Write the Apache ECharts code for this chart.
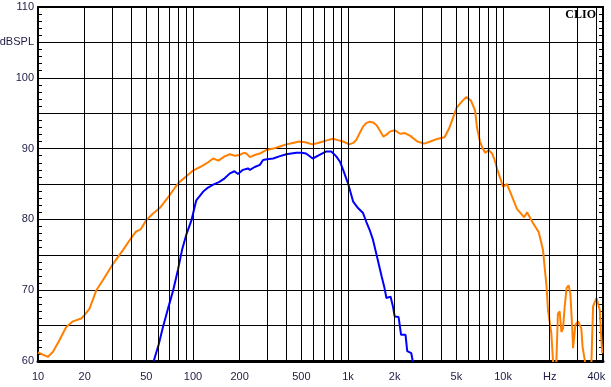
<!DOCTYPE html>
<html>
<head>
<meta charset="utf-8">
<script src="https://cdn.jsdelivr.net/npm/echarts@6/dist/echarts.min.js"></script>
<style>html,body{margin:0;padding:0;background:#fff;}#c{width:611px;height:387px;}</style>
</head>
<body>
<div id="c"></div>
<script>
// Orange response (Hz, dBSPL)
const orangeFreq = [10,11,11.6,12.5,13.8,15.2,16.8,19,20,21.5,23.8,26.2,30,35.4,40,43,46,50,55,61,70,76,82,90.6,100,111,122,135,146,160,173,186,200,213,221,233,250,270,296,330,363,400,440,485,530,590,640,690,740,800,860,930,1020,1080,1130,1190,1250,1310,1380,1450,1530,1610,1690,1780,1860,2000,2170,2330,2520,2800,3100,3400,3800,4200,4500,4750,5000,5400,5800,6200,6600,6800,7100,7400,7700,8100,8500,8800,9200,9600,10000,10600,11300,12300,13700,14300,15600,17000,18100,19100,19500,20500,21000,21500,22100,22600,23200,23800,24400,25000,25700,26500,27200,28000,28300,29300,30500,32000,32600,33700,34500,36500,37200,38100,40100,42100,43000,43700];
const orangeDb = [61.2,60.8,60.6,61.3,63.0,64.8,65.6,66.0,66.5,67.4,70.0,71.4,73.5,75.7,77.4,78.3,78.6,79.9,80.8,81.6,83.3,84.4,85.3,86.1,86.9,87.4,87.9,88.6,88.3,88.9,89.2,89.0,89.1,89.4,89.3,88.8,89.1,89.3,89.8,90.0,90.3,90.6,90.8,91.0,90.9,90.6,90.8,91.0,91.2,91.4,91.2,91.0,90.6,90.8,91.2,92.2,93.1,93.6,93.8,93.7,93.3,92.5,91.7,92.0,92.4,92.6,92.1,92.2,91.8,91.0,90.7,91.0,91.4,91.6,92.9,94.3,95.7,96.6,97.3,96.8,95.4,92.9,91.0,90.0,89.4,89.8,89.3,88.5,87.0,85.8,84.6,85.0,83.5,81.5,80.3,81.0,79.5,78.2,75.7,70.5,67.2,63.9,60.1,58.0,60.0,66.7,67.0,64.1,64.6,67.7,70.3,70.7,69.5,64.4,61.8,65.1,65.6,64.6,62.0,60.1,58.0,58.0,60.0,67.7,68.9,67.2,63.4,61.1];
// Blue response (Hz, dBSPL)
const blueFreq = [55.8,60,64,69,74.5,80,85,91,97.8,105,116,125,135,148,160,173,185,195,210,226,233,250,270,283,300,329,360,400,430,465,500,536,592,655,725,780,840,890,930,1000,1080,1160,1250,1310,1380,1450,1540,1650,1720,1770,1880,1950,2000,2120,2200,2350,2410,2560,2620];
const blueDb = [60.0,62.3,64.8,67.4,70.0,72.9,75.7,78.0,79.9,82.7,83.9,84.5,84.9,85.3,85.8,86.5,86.8,86.4,87.0,87.2,87.0,87.4,87.7,88.4,88.5,88.6,88.9,89.2,89.3,89.4,89.4,89.3,88.6,89.1,89.6,89.6,88.9,88.1,87.0,85.1,82.5,81.6,80.9,79.7,78.5,77.1,74.7,71.9,70.3,68.9,69.1,67.7,66.3,66.2,63.7,63.7,61.4,61.1,59.9];
// Axis ticks
const gridFreqs = [20,30,40,50,60,70,80,90,100,200,300,400,500,600,700,800,900,1000,2000,3000,4000,5000,6000,7000,8000,9000,10000,20000,30000,40000];
const freqLabels = {10:'10',20:'20',50:'50',100:'100',200:'200',500:'500',1000:'1k',2000:'2k',5000:'5k',10000:'10k',20000:'Hz',40000:'40k'};
const yTickLabels = {60:'60',70:'70',80:'80',90:'90',100:'100',105:'dBSPL',110:'110'};

const labelColor = '#1c1c44';
const FS = 11;
const mkLabel = t => ({show:true, formatter:t, position:'start', distance:10, align:'center',
  fontFamily:'Liberation Sans', fontSize:FS, color:labelColor});

const chart = echarts.init(document.getElementById('c'), null, {renderer:'canvas'});
const mlData = gridFreqs.map(f => ({
    xAxis: f,
    label: freqLabels[f] ? mkLabel(freqLabels[f]) : {show:false}
  }));

chart.setOption({
  animation:false,
  backgroundColor:'#ffffff',
  grid:{left:38, right:8, top:7, bottom:26, outerBoundsMode:'none', containLabel:false,
    show:true, borderColor:'#000', borderWidth:2, backgroundColor:'transparent'},
  xAxis:{type:'log', logBase:10, min:10, max:44160,
    axisLine:{show:true, onZero:false, lineStyle:{color:'#000', width:3}},
    axisTick:{show:false}, axisLabel:{show:false},
    splitLine:{show:false}, minorTick:{show:false}},
  yAxis:[{type:'value', min:60, max:110, interval:5,
    axisLine:{show:true, lineStyle:{color:'#000', width:2}},
    axisTick:{show:true, inside:true, length:4, lineStyle:{color:'#000'}},
    minorTick:{show:true, splitNumber:5, length:4, lineStyle:{color:'#000'}},
    axisLabel:{show:true, margin:4, fontFamily:'Liberation Sans', fontSize:FS, color:labelColor,
      formatter: v => yTickLabels[v] || ''},
    splitLine:{show:true, lineStyle:{color:'#000', width:1}}},
   {type:'value', min:60, max:110, interval:5, position:'right',
    axisLine:{show:true, lineStyle:{color:'#000', width:2}},
    axisTick:{show:true, inside:true, length:4, lineStyle:{color:'#000'}},
    minorTick:{show:true, splitNumber:5, length:4, lineStyle:{color:'#000'}},
    axisLabel:{show:false}, splitLine:{show:false}}],
  series:[
    {type:'line', name:'grid', data:[], z:1, silent:true,
      markLine:{silent:true, symbol:['none','none'], animation:false,
        lineStyle:{color:'#000', width:1, type:'solid'}, data:mlData}},
    {type:'line', name:'orange', z:3, showSymbol:false, symbol:'none', clip:true,
      data: orangeFreq.map((f,i)=>[f, orangeDb[i]]),
      lineStyle:{color:'#ff8000', width:2}},
    {type:'line', name:'blue', z:4, showSymbol:false, symbol:'none', clip:true,
      data: blueFreq.map((f,i)=>[f, blueDb[i]]),
      lineStyle:{color:'#0000ff', width:2}}
  ]
});

// "10" label at the axis minimum, placed through the axis scale
const p10 = chart.convertToPixel({xAxisIndex:0, yAxisIndex:0}, [10, 60]);
chart.setOption({
  graphic:[
    {type:'text', id:'lbl10', x:p10[0], y:p10[1] + 10, z:100,
      style:{text:freqLabels[10], fontFamily:'Liberation Sans', fontSize:FS, fill:labelColor, align:'center', verticalAlign:'top'}},
    {type:'text', id:'clio', right:15, top:9, z:100,
      style:{text:'CLIO', font:'bold 12px "Liberation Serif"', fill:'#000'}}
  ]
});
</script>
</body>
</html>
